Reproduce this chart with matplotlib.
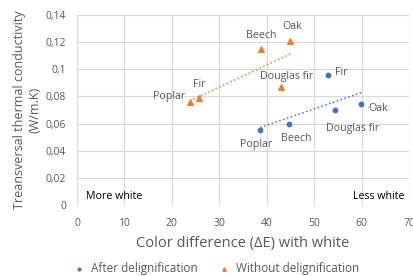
import numpy as np
import matplotlib.pyplot as plt
from matplotlib.ticker import FuncFormatter

plt.rcParams['font.family'] = ['Open Sans', 'DejaVu Sans']

species_after = ['Poplar', 'Beech', 'Fir', 'Douglas fir', 'Oak']
de_after = [38.6, 44.7, 52.9, 54.4, 59.9]
k_after = [0.055, 0.060, 0.0955, 0.0697, 0.0745]

species_without = ['Poplar', 'Fir', 'Beech', 'Douglas fir', 'Oak']
de_without = [23.8, 25.7, 38.8, 43.0, 45.0]
k_without = [0.0757, 0.0787, 0.1147, 0.0868, 0.121]

blue = '#4472C4'
orange = '#ED7D31'
grey = '#595959'

fig = plt.figure(figsize=(4.14, 2.76), dpi=100)
ax = fig.add_axes([0.186, 0.257, 0.802, 0.689])

ax.scatter(de_after, k_after, s=10, color=blue, marker='o', zorder=3, label='After delignification')
ax.scatter(de_without, k_without, s=16, color=orange, marker='^', zorder=3, label='Without delignification')

# linear trend lines
for xs, ys, c in [(de_after, k_after, blue), (de_without, k_without, orange)]:
    p = np.polyfit(xs, ys, 1)
    xx = np.array([min(xs), max(xs)])
    ax.plot(xx, np.polyval(p, xx), ls=':', lw=1.1, color=c, zorder=2)

fs = 7.7
# labels for "after" points
offs_after = {'Poplar': (-3, -10, 'center'), 'Beech': (5, -11, 'center'), 'Fir': (5, 2, 'left'),
              'Douglas fir': (13, -13, 'center'), 'Oak': (5, -3, 'left')}
for n, x, y in zip(species_after, de_after, k_after):
    dx, dy, ha = offs_after[n]
    ax.annotate(n, (x, y), xytext=(dx, dy), textcoords='offset points', ha=ha, va='center',
                fontsize=fs, color=grey)
offs_without = {'Poplar': (-3, 4, 'right'), 'Fir': (0, 10, 'center'), 'Beech': (0, 10, 'center'),
                'Douglas fir': (4, 8, 'center'), 'Oak': (1, 10, 'center')}
for n, x, y in zip(species_without, de_without, k_without):
    dx, dy, ha = offs_without[n]
    ax.annotate(n, (x, y), xytext=(dx, dy), textcoords='offset points', ha=ha, va='center',
                fontsize=fs, color=grey)

ax.text(2, 0.002, 'More white', fontsize=7.7, color='black', va='bottom', ha='left')
ax.text(69, 0.002, 'Less white', fontsize=7.7, color='black', va='bottom', ha='right')

ax.set_xlim(0, 70)
ax.set_ylim(0, 0.14)
ax.set_xticks(range(0, 71, 10))
ax.set_yticks(np.arange(0, 0.141, 0.02))
ax.yaxis.set_major_formatter(FuncFormatter(lambda v, p: ('%g' % round(v, 2)).replace('.', ',')))
ax.grid(True, color='#d9d9d9', lw=0.8)
ax.set_axisbelow(True)
for s in ax.spines.values():
    s.set_visible(False)
ax.tick_params(length=0, labelsize=7.5, labelcolor=grey)
ax.tick_params(axis='x', pad=9)
ax.tick_params(axis='y', pad=8)

ax.set_xlabel('Color difference (ΔE) with white', fontsize=10.5, color=grey, labelpad=5)
ax.set_ylabel('Treansversal thermal conductivity\n(W/m.K)', fontsize=9, color=grey, labelpad=3)

leg = fig.legend(loc='lower center', bbox_to_anchor=(0.515, -0.035), ncol=2, frameon=False,
                 fontsize=8.5, handletextpad=0.0, columnspacing=1.2, markerscale=0.6, labelcolor=grey)

fig.savefig('out.png', dpi=100)
